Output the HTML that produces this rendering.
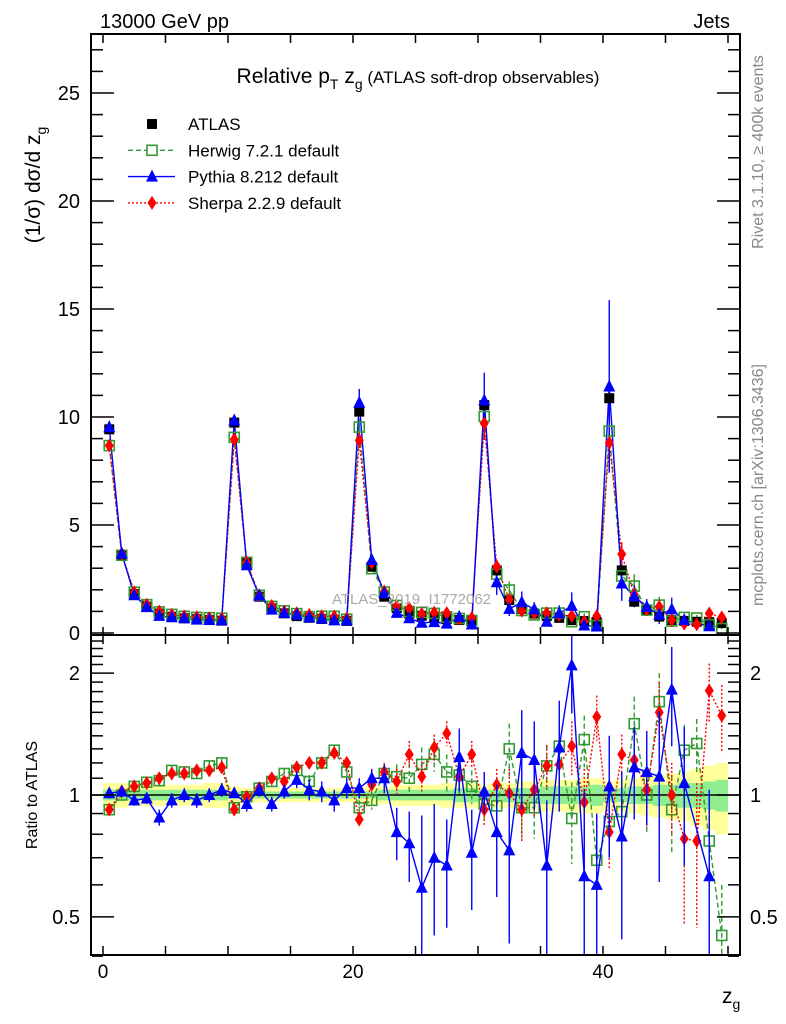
<!DOCTYPE html>
<html><head><meta charset="utf-8"><style>
html,body{margin:0;padding:0;background:#fff}
svg{display:block;font-family:"Liberation Sans",sans-serif}
</style></head><body>
<svg id="chart" width="786" height="1024" viewBox="0 0 786 1024">
<defs>
<clipPath id="clipMain"><rect x="91" y="34" width="649" height="601"/></clipPath>
<clipPath id="clipRatio"><rect x="91" y="635" width="649" height="320"/></clipPath>
</defs>
<g id="bands" clip-path="url(#clipRatio)"></g>
<g id="ratioMarks" clip-path="url(#clipRatio)"></g>
<g id="mainMarks" clip-path="url(#clipMain)"></g>
<g id="axes"></g>
<text x="100" y="28" font-size="20">13000 GeV pp</text>
<text x="730" y="28" font-size="20" text-anchor="end">Jets</text>
<text x="418" y="83" font-size="21" text-anchor="middle">Relative p<tspan font-size="14" dy="6">T</tspan><tspan dy="-6"> z</tspan><tspan font-size="14" dy="6">g</tspan><tspan dy="-6" font-size="17"> (ATLAS soft-drop observables)</tspan></text>
<text transform="translate(40,185) rotate(-90)" font-size="21" text-anchor="middle">(1/σ) dσ/d z<tspan font-size="14" dy="6">g</tspan></text>
<text transform="translate(37,795) rotate(-90)" font-size="16" text-anchor="middle">Ratio to ATLAS</text>
<text x="722" y="1003" font-size="21">z<tspan font-size="14" dy="6">g</tspan></text>
<text transform="translate(763,152) rotate(-90)" font-size="16" fill="#888" text-anchor="middle">Rivet 3.1.10, ≥ 400k events</text>
<text transform="translate(763,485) rotate(-90)" font-size="16" fill="#888" text-anchor="middle">mcplots.cern.ch [arXiv:1306.3436]</text>
<text x="332" y="604" font-size="15" fill="#aaa">ATLAS_2019_I1772062</text>
<g id="legend"></g>
</svg>
<script>
const atlas=[9.43,3.6,1.8,1.22,0.9,0.75,0.68,0.64,0.6,0.57, 9.74,3.3,1.68,1.14,0.91,0.78,0.7,0.65,0.6,0.56, 10.25,3.07,1.68,1.15,0.9,0.8,0.72,0.65,0.6,0.55, 10.55,2.9,1.53,1.12,0.9,0.78,0.7,0.6,0.55,0.5, 10.87,2.9,1.45,1.06,0.76,0.6,0.56,0.52,0.5,0.46];
const herwigRatio=[0.92,1.0,1.05,1.075,1.085,1.15,1.14,1.13,1.18,1.2, 0.93,0.99,1.04,1.08,1.13,1.15,1.08,1.2,1.29,1.14, 0.93,0.97,1.13,1.11,1.1,1.19,1.26,1.14,1.12,1.05, 0.95,0.94,1.3,0.93,0.93,1.18,1.32,0.875,1.37,0.69, 0.86,0.91,1.5,1.0,1.7,0.92,1.29,1.34,0.77,0.45];
const pythiaRatio=[1.01,1.02,0.97,0.98,0.88,0.97,1.0,0.97,1.0,1.03, 1.01,0.95,1.03,0.95,1.02,1.09,1.03,1.02,0.97,1.04, 1.04,1.1,1.1,0.81,0.76,0.59,0.7,0.67,1.24,0.72, 1.02,0.81,0.73,1.27,1.22,0.67,1.31,2.09,0.63,0.6, 1.05,0.79,1.17,1.14,1.11,1.82,1.07,null,0.63,null];
const sherpaRatio=[0.92,1.02,1.05,1.07,1.1,1.13,1.13,1.15,1.15,1.17, 0.92,0.99,1.04,1.1,1.08,1.17,1.2,1.2,1.27,1.2, 0.87,1.06,1.14,1.08,1.26,1.11,1.31,1.42,1.11,1.26, 0.92,1.06,1.01,0.92,1.03,1.18,1.19,1.32,0.96,1.56, 0.81,1.26,1.22,1.03,1.6,1.0,0.78,0.77,1.81,1.57];
const pythiaErr=[0.03,0.03,0.03,0.03,0.04,0.04,0.04,0.04,0.04,0.04, 0.02,0.04,0.04,0.04,0.04,0.05,0.06,0.06,0.06,0.06, 0.06,0.06,0.09,0.12,0.15,0.3,0.25,0.2,0.22,0.2, 0.12,0.25,0.3,0.35,0.3,0.3,0.4,0.5,0.4,0.3, 0.35,0.35,0.3,0.3,0.5,0.5,0.4,0.4,0.4,0.3];
const herwigErr=[0.02,0.02,0.02,0.02,0.03,0.03,0.03,0.03,0.03,0.03, 0.02,0.02,0.03,0.03,0.03,0.03,0.04,0.04,0.04,0.04, 0.04,0.05,0.06,0.08,0.1,0.12,0.12,0.12,0.12,0.1, 0.08,0.1,0.2,0.15,0.15,0.15,0.2,0.2,0.2,0.2, 0.15,0.15,0.25,0.2,0.3,0.2,0.2,0.2,0.2,0.15];
const sherpaErr=[0.02,0.02,0.02,0.02,0.03,0.03,0.03,0.03,0.03,0.03, 0.02,0.02,0.03,0.03,0.03,0.03,0.04,0.04,0.04,0.04, 0.04,0.05,0.06,0.08,0.1,0.1,0.1,0.1,0.1,0.1, 0.08,0.1,0.15,0.15,0.15,0.15,0.2,0.2,0.2,0.2, 0.15,0.15,0.25,0.2,0.3,0.2,0.3,0.3,0.3,0.3];
const bandYellow=[0.07,0.07,0.06,0.06,0.06,0.06,0.06,0.06,0.07,0.07, 0.05,0.04,0.04,0.04,0.04,0.04,0.04,0.04,0.04,0.04, 0.04,0.05,0.05,0.06,0.06,0.06,0.06,0.07,0.07,0.07, 0.06,0.07,0.07,0.08,0.08,0.09,0.09,0.09,0.1,0.1, 0.08,0.09,0.1,0.11,0.12,0.13,0.14,0.16,0.18,0.2];
const bandGreen=[0.03,0.03,0.03,0.03,0.03,0.03,0.03,0.03,0.03,0.03, 0.02,0.02,0.02,0.02,0.02,0.02,0.02,0.02,0.02,0.02, 0.02,0.02,0.03,0.03,0.03,0.03,0.03,0.03,0.04,0.04, 0.03,0.03,0.04,0.04,0.04,0.05,0.05,0.05,0.05,0.06, 0.04,0.04,0.05,0.05,0.06,0.06,0.07,0.07,0.08,0.09];
const xTickLabels=[0,20,40];
const yTickLabels=[0,5,10,15,20,25];
const ratioTickLabels=[0.5,1,2];

const NS="http://www.w3.org/2000/svg";
const X=v=>103+12.5*v;
const Y=v=>633-21.6*v;
const R=v=>795-405*Math.log10(v);
function mk(parent,tag,attrs){const e=document.createElementNS(NS,tag);for(const k in attrs)e.setAttribute(k,attrs[k]);parent.appendChild(e);return e;}
const gB=document.getElementById('bands'),gR=document.getElementById('ratioMarks'),gM=document.getElementById('mainMarks'),gA=document.getElementById('axes'),gL=document.getElementById('legend');

atlas.forEach((a,i)=>{
  let y=mk(gB,'rect',{x:X(i),y:R(1+bandYellow[i]),width:12.6,height:R(1-bandYellow[i])-R(1+bandYellow[i]),fill:'#ffff99'});
  
  
  let g=mk(gB,'rect',{x:X(i),y:R(1+bandGreen[i]),width:12.6,height:R(1-bandGreen[i])-R(1+bandGreen[i]),fill:'#90ee90'});
  
  
});
let one=mk(gR,'line',{x1:91,x2:740,y1:R(1),y2:R(1),stroke:'#000','stroke-width':1.5});



function marker(g,type,cx,cy,col){
  let e;
  if(type==='sq')e=mk(g,'rect',{x:cx-5,y:cy-5,width:10,height:10,fill:'#000'});
  else if(type==='osq')e=mk(g,'rect',{x:cx-5,y:cy-5,width:10,height:10,fill:'none',stroke:col,'stroke-width':1.6});
  else if(type==='tri')e=mk(g,'polygon',{points:`${cx},${cy-7} ${cx-6},${cy+5} ${cx+6},${cy+5}`,fill:col});
  else e=mk(g,'polygon',{points:`${cx},${cy-7} ${cx-4.5},${cy} ${cx},${cy+7} ${cx+4.5},${cy}`,fill:col});
  return e;
}
const series=[
 {name:'herwig',ratio:herwigRatio,err:herwigErr,col:'#339933',dash:'5,3',type:'osq'},
 {name:'sherpa',ratio:sherpaRatio,err:sherpaErr,col:'#ff0000',dash:'2,2',type:'dia'},
 {name:'pythia',ratio:pythiaRatio,err:pythiaErr,col:'#0000ff',dash:'',type:'tri'}
];
series.forEach(s=>{
  let pts=[],mpts=[];
  s.ratio.forEach((r,i)=>{
    if(r===null)return;
    const cx=X(i+0.5);
    pts.push(cx+','+R(r));
    const m=atlas[i]*r;
    mpts.push(cx+','+Y(m));
  });
  let pl=mk(gR,'polyline',{points:pts.join(' '),fill:'none',stroke:s.col,'stroke-width':1.4,'stroke-dasharray':s.dash});
  
  
  let ml=mk(gM,'polyline',{points:mpts.join(' '),fill:'none',stroke:s.col,'stroke-width':1.4,'stroke-dasharray':s.dash});
  
  
  s.ratio.forEach((r,i)=>{
    if(r===null)return;
    const cx=X(i+0.5),e=s.err[i];
    let eb=mk(gR,'line',{x1:cx,x2:cx,y1:R(r+e),y2:R(Math.max(r-e,0.05)),stroke:s.col,'stroke-width':1.4,'stroke-dasharray':s.dash});
    
    
    let p=marker(gR,s.type,cx,R(r),s.col);
    
    
    const m=atlas[i]*r;
    let em=mk(gM,'line',{x1:cx,x2:cx,y1:Y(m*(1+e)),y2:Y(m*(1-e)),stroke:s.col,'stroke-width':1.4});
    
    
  });
});
atlas.forEach((a,i)=>{
  let p=marker(gM,'sq',X(i+0.5),Y(a),'#000');
  
  
});
series.forEach(s=>{
  s.ratio.forEach((r,i)=>{
    if(r===null)return;
    let p=marker(gM,s.type,X(i+0.5),Y(atlas[i]*r),s.col);
    if(s.type==='osq')p.setAttribute('fill','none');
    
    
  });
});

[[34,601],[635,320]].forEach(([y,h])=>{
  let f=mk(gA,'rect',{x:91,y:y,width:649,height:h,fill:'none',stroke:'#000','stroke-width':2});
  
  
});
for(let v=0;v<=50;v+=5){
  const x=X(v),L=8;
  [[35,35+L],[636,636+L],[635-L,635],[954-L,954]].forEach(([a,b])=>{mk(gA,'line',{x1:x,x2:x,y1:a,y2:b,stroke:'#000','stroke-width':1.5});});
}
xTickLabels.forEach(v=>{
  let t=mk(gA,'text',{x:X(v),y:978,'font-size':19,'text-anchor':'middle'});t.textContent=v;
  
  
});
for(let v=0;v<=27;v++){
  const y=Y(v),L=(v%5===0)?22:11;
  mk(gA,'line',{x1:92,x2:92+L,y1:y,y2:y,stroke:'#000','stroke-width':1.5});
  mk(gA,'line',{x1:739-L,x2:739,y1:y,y2:y,stroke:'#000','stroke-width':1.5});
}
yTickLabels.forEach(v=>{
  let t=mk(gA,'text',{x:80,y:Y(v)+7,'font-size':20,'text-anchor':'end'});t.textContent=v;
  
  
});
[0.4,0.5,0.6,0.7,0.8,0.9,1,1.1,1.2,1.3,1.4,1.5,1.6,1.7,1.8,1.9,2,2.1,2.2,2.3,2.4].forEach(v=>{
  const y=R(v),L=(v===0.5||v===1||v===2)?22:11;
  mk(gA,'line',{x1:92,x2:92+L,y1:y,y2:y,stroke:'#000','stroke-width':1.5});
  mk(gA,'line',{x1:739-L,x2:739,y1:y,y2:y,stroke:'#000','stroke-width':1.5});
});
ratioTickLabels.forEach(v=>{
  let t=mk(gA,'text',{x:80,y:R(v)+7,'font-size':20,'text-anchor':'end'});t.textContent=v;
  
  
  let t2=mk(gA,'text',{x:750,y:R(v)+7,'font-size':20});t2.textContent=v;
  
  
});
const leg=[['ATLAS','sq','#000',''],['Herwig 7.2.1 default','osq','#339933','5,3'],['Pythia 8.212 default','tri','#0000ff',''],['Sherpa 2.2.9 default','dia','#ff0000','2,2']];
leg.forEach((l,k)=>{
  const y=124+k*26.3;
  const g=mk(gL,'g',{});
  
  
  if(k>0)mk(g,'line',{x1:128,x2:175,y1:y,y2:y,stroke:l[2],'stroke-width':1.4,'stroke-dasharray':l[3]});
  const m=marker(g,l[1],152,y,l[2]);if(l[1]==='osq')m.setAttribute('fill','#fff');
  const t=mk(g,'text',{x:188,y:y+6,'font-size':17});t.textContent=l[0];
});
</script>
</body></html>
